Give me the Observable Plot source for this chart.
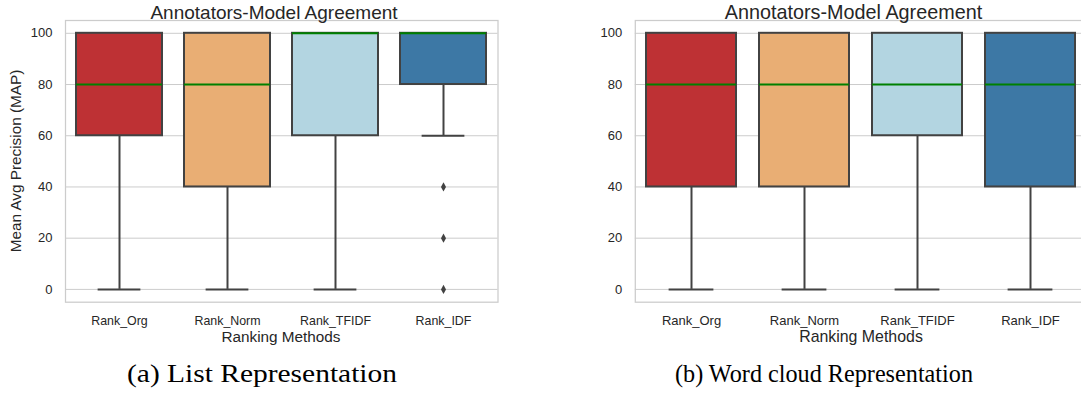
<!DOCTYPE html>
<html>
<head>
<meta charset="utf-8">
<script src="https://cdn.jsdelivr.net/npm/d3@7"></script>
<script src="https://cdn.jsdelivr.net/npm/@observablehq/plot@0.6"></script>
<style>
  html, body { margin: 0; padding: 0; background: #fff; overflow: hidden; width: 1081px; height: 394px; }
  #page { position: relative; width: 1081px; height: 394px; overflow: hidden; }
  .panel { position: absolute; top: 0; }
  .panel svg { max-width: none !important; display: block; }
  .overlay { position: absolute; left: 0; top: 0; pointer-events: none; }
</style>
</head>
<body>
<div id="page">
  <div id="left" class="panel" style="left:0px; width:540px"></div>
  <div id="right" class="panel" style="left:540px; width:560px"></div>
  <svg class="overlay" width="1081" height="394">
    <g font-family="Liberation Sans, Arial, sans-serif" fill="#262626">
      <text x="274" y="19" text-anchor="middle" font-size="19">Annotators-Model Agreement</text>
      <text x="853.5" y="19" text-anchor="middle" font-size="19.8">Annotators-Model Agreement</text>
      <text x="281" y="341.7" text-anchor="middle" font-size="15.3">Ranking Methods</text>
      <text x="861" y="341.7" text-anchor="middle" font-size="15.9">Ranking Methods</text>
      <text transform="translate(21,161) rotate(-90)" text-anchor="middle" font-size="15.3">Mean Avg Precision (MAP)</text>
    </g>
    <g font-family="Liberation Serif, Times New Roman, serif" fill="#000">
      <text x="262" y="381.7" text-anchor="middle" font-size="25" textLength="270" lengthAdjust="spacingAndGlyphs">(a) List Representation</text>
      <text x="824" y="381.7" text-anchor="middle" font-size="25" textLength="298" lengthAdjust="spacingAndGlyphs">(b) Word cloud Representation</text>
    </g>
  </svg>
</div>
<script>
// ---- data ----
const categories = ["Rank_Org", "Rank_Norm", "Rank_TFIDF", "Rank_IDF"];
const boxColors = ["#be3134", "#e9ae74", "#b3d5e1", "#3d78a5"];
const yTicks = [0, 20, 40, 60, 80, 100];

// (a) List Representation
const listLow    = [0, 0, 0, 60];
const listQ1     = [60, 40, 60, 80];
const listMedian = [80, 80, 100, 100];
const listQ3     = [100, 100, 100, 100];
const listHigh   = [100, 100, 100, 100];
const listOutlierMethods = ["Rank_IDF", "Rank_IDF", "Rank_IDF"];
const listOutlierValues  = [40, 20, 0];

// (b) Word cloud Representation
const cloudLow    = [0, 0, 0, 0];
const cloudQ1     = [40, 40, 60, 40];
const cloudMedian = [80, 80, 80, 80];
const cloudQ3     = [100, 100, 100, 100];
const cloudHigh   = [100, 100, 100, 100];
const cloudOutlierMethods = [];
const cloudOutlierValues  = [];

const lineColor = "#424242";

const thinDiamond = {
  draw(context, size) {
    const r = Math.sqrt(size / Math.PI);
    const w = r * 0.55;
    context.moveTo(0, -r);
    context.lineTo(w, 0);
    context.lineTo(0, r);
    context.lineTo(-w, 0);
    context.closePath();
  }
};

function panel({low, q1, median, q3, high, outM, outV, width, marginLeft, marginRight, tickFont, yFont}) {
  const rows = categories.map((m, i) => ({
    method: m, low: low[i], q1: q1[i], median: median[i], q3: q3[i], high: high[i], color: boxColors[i]
  }));
  const outliers = outM.map((m, i) => ({method: m, value: outV[i]}));
  const marginTop = 20, marginBottom = 48.3, height = 350;
  const step = (width - marginLeft - marginRight) / categories.length;
  const capInset = step * 0.8 / 4;
  return Plot.plot({
    width, height, marginTop, marginBottom, marginLeft, marginRight,
    style: {fontFamily: "Liberation Sans, Arial, sans-serif", color: "#262626", background: "transparent", maxWidth: "none"},
    x: {domain: categories, paddingInner: 0.2, paddingOuter: 0.1, align: 0.5},
    y: {domain: [-5, 105]},
    color: {type: "identity"},
    marks: [
      Plot.gridY(yTicks, {stroke: "#cccccc", strokeOpacity: 1, strokeWidth: 1}),
      Plot.frame({stroke: "#cccccc", strokeWidth: 1.25}),
      Plot.ruleX(rows, {x: "method", y1: "q3", y2: "high", stroke: lineColor, strokeWidth: 2}),
      Plot.ruleX(rows, {x: "method", y1: "low", y2: "q1", stroke: lineColor, strokeWidth: 2}),
      Plot.tickY(rows, {x: "method", y: "low", stroke: lineColor, strokeWidth: 2, insetLeft: capInset, insetRight: capInset}),
      Plot.tickY(rows, {x: "method", y: "high", stroke: lineColor, strokeWidth: 2, insetLeft: capInset, insetRight: capInset}),
      Plot.barY(rows, {x: "method", y1: "q1", y2: "q3", fill: "color", stroke: lineColor, strokeWidth: 2}),
      Plot.tickY(rows, {x: "method", y: "median", stroke: "#008000", strokeWidth: 2}),
      Plot.dot(outliers, {x: "method", y: "value", symbol: thinDiamond, r: 4.6, fill: lineColor, stroke: "none"}),
      Plot.axisY(yTicks, {tickSize: 0, tickPadding: 13, fontSize: yFont, label: null}),
      Plot.axisX({tickSize: 0, tickPadding: 13.5, fontSize: tickFont, label: null})
    ]
  });
}

document.getElementById("left").append(panel({
  low: listLow, q1: listQ1, median: listMedian, q3: listQ3, high: listHigh,
  outM: listOutlierMethods, outV: listOutlierValues,
  width: 540, marginLeft: 65, marginRight: 42.5, tickFont: 12.4, yFont: 13
}));
document.getElementById("right").append(panel({
  low: cloudLow, q1: cloudQ1, median: cloudMedian, q3: cloudQ3, high: cloudHigh,
  outM: cloudOutlierMethods, outV: cloudOutlierValues,
  width: 560, marginLeft: 94.8, marginRight: 13, tickFont: 13, yFont: 13
}));
</script>
</body>
</html>
